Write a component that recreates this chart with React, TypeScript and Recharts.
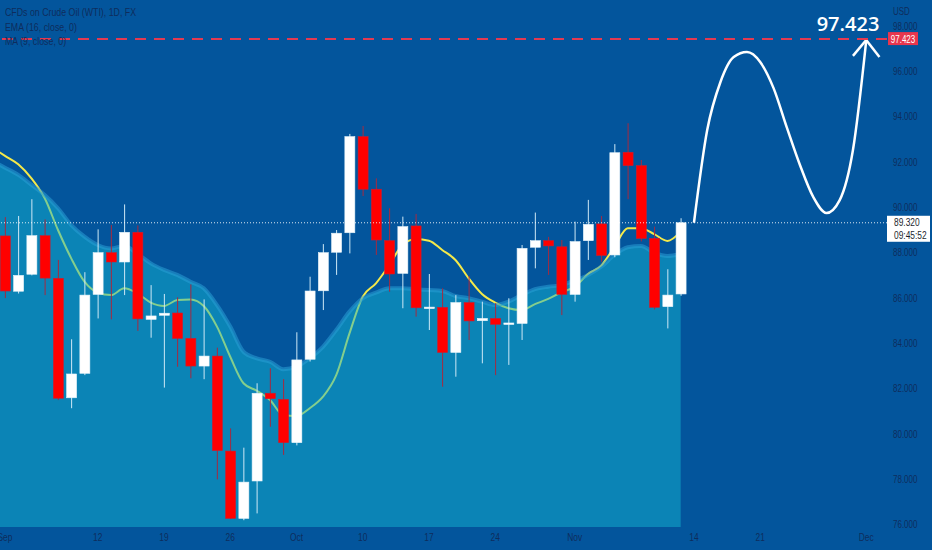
import React from "react";
import {
  ComposedChart,
  XAxis,
  YAxis,
  Line,
  Area,
  Bar,
  ReferenceLine,
  Legend,
} from "recharts";

// daily candles, index 0 = Sep 1, index 51 = Nov 11
const opens = [
  88.74, 86.3, 87.05, 88.75, 86.87, 81.6, 82.68, 86.16, 88.0, 87.59,
  88.9, 85.06, 85.24, 85.34, 84.22, 83.0, 83.44, 79.25, 76.28, 77.93,
  81.8, 81.53, 79.62, 83.3, 86.32, 88.02, 88.88, 93.12, 90.8, 88.53,
  87.09, 89.18, 85.57, 85.59, 83.6, 85.8, 85.0, 85.1, 84.85, 84.88,
  88.24, 88.53, 88.26, 86.16, 88.53, 89.27, 87.9, 92.43, 91.84, 88.63,
  85.62, 86.18,
];
const highs = [
  89.57, 89.62, 90.36, 89.47, 87.68, 84.18, 87.14, 89.03, 89.22, 90.13,
  89.2, 86.57, 86.18, 86.03, 86.6, 85.94, 83.81, 80.25, 79.4, 82.24,
  82.9, 82.42, 84.49, 86.94, 88.38, 89.0, 93.24, 93.59, 91.28, 89.96,
  89.59, 89.71, 87.06, 86.43, 86.13, 86.97, 85.84, 85.77, 85.99, 88.34,
  89.77, 88.7, 88.56, 89.37, 90.33, 89.62, 92.79, 93.71, 92.09, 89.15,
  87.27, 89.52,
];
const lows = [
  86.0, 86.2, 87.0, 86.13, 81.5, 81.14, 82.6, 85.1, 85.06, 86.13,
  84.55, 84.25, 82.05, 82.97, 82.46, 82.42, 78.0, 76.25, 76.2, 76.5,
  80.32, 79.08, 79.5, 83.2, 85.47, 87.02, 87.97, 90.5, 87.9, 86.28,
  85.55, 85.18, 84.59, 82.09, 82.53, 84.15, 83.12, 82.6, 83.05, 84.15,
  87.31, 87.02, 85.25, 85.84, 87.68, 87.6, 87.8, 90.36, 88.5, 85.5,
  84.66, 86.1,
];
const closes = [
  86.31, 87.0, 88.75, 86.88, 81.58, 82.65, 86.13, 88.0, 87.59, 88.9,
  85.08, 85.21, 85.33, 84.22, 83.0, 83.44, 79.27, 76.28, 77.88, 81.8,
  81.56, 79.62, 83.27, 86.31, 88.0, 88.86, 93.12, 90.8, 88.56, 87.06,
  89.15, 85.57, 85.6, 83.6, 85.8, 84.99, 85.1, 84.84, 84.9, 88.19,
  88.53, 88.3, 86.16, 88.49, 89.25, 87.88, 92.41, 91.84, 88.63, 85.59,
  86.13, 89.32,
];

// indicators, index -1 .. 51
const ema16 = [
  92.05, 91.75, 91.43, 90.99, 90.55, 89.96, 89.22, 88.71, 88.34, 88.19,
  88.3, 87.95, 87.53, 87.24, 87.02, 86.72, 86.43, 85.69, 84.74, 83.63,
  83.34, 83.19, 82.86, 82.97, 83.34, 83.85, 84.59, 85.4, 85.99, 86.24,
  86.43, 86.43, 86.39, 86.35, 86.31, 86.09, 85.99, 85.84, 85.69, 85.84,
  86.13, 86.39, 86.5, 86.57, 86.77, 87.02, 87.38, 87.9, 88.24, 88.3,
  88.0, 87.85, 87.94,
];
const ma9 = [
  92.65, 92.27, 91.9, 91.28, 90.4, 89.0, 87.75, 86.72, 86.24, 86.13,
  86.43, 86.2, 85.8, 85.65, 85.91, 85.94, 85.65, 84.74, 83.41, 82.24,
  81.91, 81.5, 80.84, 80.8, 81.14, 81.65, 82.6, 84.44, 86.06, 86.65,
  87.45, 88.34, 88.59, 88.53, 88.12, 87.68, 86.87, 86.18, 85.8, 85.55,
  85.47, 85.73, 85.96, 86.25, 86.5, 87.06, 87.43, 88.26, 89.08, 89.08,
  88.82, 88.52, 88.93,
];

// hand drawn projection, index 52 .. 65
const projection = [
  89.32, 93.41, 95.53, 96.63, 96.85, 96.41, 95.27, 93.54, 91.87, 90.46,
  89.75, 90.32, 92.53, 97.35,
];
const arrowDays = [64, 65, 66];
const arrowValues = [96.68, 97.38, 96.63];

const tickDays = [0, 7, 12, 17, 22, 27, 32, 37, 43, 52, 57, 65];
const tickLabels = ["Sep", "12", "19", "26", "Oct", "10", "17", "24", "Nov", "14", "21", "Dec"];
const priceTicks = [76, 78, 80, 82, 84, 86, 88, 90, 92, 94, 96, 98];

const target = 97.423;
const lastPrice = 89.32;
const lastTime = "09:45:52";
const title = "CFDs on Crude Oil (WTI), 1D, FX";
const emaName = "EMA (16, close, 0)";
const maName = "MA (9, close, 0)";

const BG = "#03559c";
const AXIS_TEXT = "#0e2d5c";
const FONT = "'Liberation Sans', 'Noto Sans', sans-serif";

const rows: any[] = [];
for (let i = -1; i <= 66; i++) {
  const row: any = { i };
  if (i >= 0 && i < opens.length) {
    row.open = opens[i];
    row.high = highs[i];
    row.low = lows[i];
    row.close = closes[i];
    row.range = [lows[i], highs[i]];
  }
  if (i + 1 < ema16.length) {
    row.ema = ema16[i + 1];
    row.ma = ma9[i + 1];
  }
  if (i >= 52 && i - 52 < projection.length) row.proj = projection[i - 52];
  rows.push(row);
}

// condensed text: the reference uses a narrow face
function NText({ x, y, anchor = "start", size = 10, fill = AXIS_TEXT, dy, children }: any) {
  return (
    <text
      transform={`translate(${x},${y}) scale(0.8,1)`}
      textAnchor={anchor}
      dy={dy}
      fontSize={size}
      fill={fill}
      fontFamily={FONT}
    >
      {children}
    </text>
  );
}

function XTick(props: any) {
  const { x, y, payload } = props;
  return (
    <NText x={x} y={y} anchor="middle" size={10.5} dy="0.71em">
      {tickLabels[tickDays.indexOf(payload.value)] ?? ""}
    </NText>
  );
}

function YTick(props: any) {
  const { x, y, payload } = props;
  return (
    <NText x={x} y={y} size={10} dy="0.355em">
      {Number(payload.value).toFixed(3)}
    </NText>
  );
}

function Candle(props: any) {
  const { x, y, width, height, payload } = props;
  if (!payload || payload.open == null || !isFinite(y) || !isFinite(height)) return <g />;
  const { open, close, high, low } = payload;
  const top = Math.min(y, y + height);
  const bottom = Math.max(y, y + height);
  const k = high === low ? 0 : (bottom - top) / (high - low);
  const py = (v: number) => top + (high - v) * k;
  const up = close >= open;
  const bTop = py(Math.max(open, close));
  const bBot = py(Math.min(open, close));
  const cx = x + width / 2;
  return (
    <g>
      <line x1={cx} x2={cx} y1={top} y2={bottom} stroke={up ? "#cfe9f6" : "#a52a40"} strokeWidth={1} />
      <rect
        x={x}
        y={bTop}
        width={width}
        height={Math.max(bBot - bTop, 1.5)}
        fill={up ? "#ffffff" : "#ff0000"}
        stroke={up ? "#e6f3fa" : "#cc1c30"}
        strokeWidth={0.6}
      />
    </g>
  );
}

function TargetLabel(props: any) {
  const { x, y, width } = props.viewBox;
  const r = x + width;
  return (
    <g>
      <text x={r - 39} y={y - 8} textAnchor="middle" fill="#ffffff" fontSize={20} fontWeight={600} fontFamily="'Open Sans', sans-serif">
        {target.toFixed(3)}
      </text>
      <rect x={r + 1} y={y - 7} width={30} height={13} fill="#e8364e" />
      <NText x={r + 16} y={y + 3.5} anchor="middle" size={10} fill="#ffffff">
        {target.toFixed(3)}
      </NText>
    </g>
  );
}

function PriceLabel(props: any) {
  const { x, y, width } = props.viewBox;
  const r = x + width;
  return (
    <g>
      <rect x={r} y={y - 7} width={43} height={26} fill="#ffffff" />
      <NText x={r + 7} y={y + 3} size={10.5} fill="#1b1f2e">
        {lastPrice.toFixed(3)}
      </NText>
      <NText x={r + 7} y={y + 16} size={10.5} fill="#1b1f2e">
        {lastTime}
      </NText>
    </g>
  );
}

function LegendBox() {
  return (
    <div
      style={{
        color: AXIS_TEXT,
        fontSize: 11,
        fontFamily: FONT,
        lineHeight: "14.5px",
        transform: "scaleX(0.8)",
        transformOrigin: "0 0",
        whiteSpace: "nowrap",
      }}
    >
      <div>{title}</div>
      <div>{emaName}</div>
      <div>{maName}</div>
    </div>
  );
}

export default function App() {
  return (
    <div style={{ position: "absolute", left: 0, top: 0, width: 932, height: 550, background: BG }}>
      <ComposedChart width={932} height={550} data={rows} margin={{ top: 0, right: 0, bottom: 0, left: 0 }}>
        <XAxis
          dataKey="i"
          type="number"
          domain={[-0.377, 66.57]}
          allowDataOverflow
          ticks={tickDays}
          interval={0}
          axisLine={false}
          tickLine={false}
          tickSize={0}
          tickMargin={7}
          height={23}
          tick={<XTick />}
        />
        <YAxis
          orientation="right"
          type="number"
          domain={[75.9, 99.147]}
          allowDataOverflow
          ticks={priceTicks}
          interval={0}
          axisLine={false}
          tickLine={false}
          tickSize={6}
          tickMargin={0}
          width={45}
          tick={<YTick />}
          label={(p: any) => (
            <NText x={p.viewBox.x + 6} y={15} size={10}>
              USD
            </NText>
          )}
        />
        <Legend
          layout="vertical"
          align="center"
          verticalAlign="middle"
          wrapperStyle={{ top: 5, left: 5, width: 200 }}
          content={() => <LegendBox />}
        />
        <Line
          dataKey="ma"
          type="monotone"
          stroke="#f4e94a"
          strokeWidth={2}
          dot={false}
          activeDot={false}
          isAnimationActive={false}
          zIndex={100}
        />
        <Area
          dataKey="ema"
          type="monotone"
          fill="#13b3cf"
          fillOpacity={0.5}
          stroke="#2a9fd6"
          strokeWidth={4}
          strokeOpacity={0.55}
          dot={false}
          activeDot={false}
          isAnimationActive={false}
          zIndex={200}
        />
        <Bar
          dataKey="range"
          barSize={10}
          shape={<Candle />}
          isAnimationActive={false}
          zIndex={300}
        />
        <Line
          dataKey="proj"
          type="monotone"
          stroke="#ffffff"
          strokeWidth={2.5}
          dot={false}
          activeDot={false}
          isAnimationActive={false}
          zIndex={400}
        />
        <ReferenceLine
          segment={[{ x: arrowDays[0], y: arrowValues[0] }, { x: arrowDays[1], y: arrowValues[1] }]}
          stroke="#ffffff"
          strokeWidth={2.5}
        />
        <ReferenceLine
          segment={[{ x: arrowDays[1], y: arrowValues[1] }, { x: arrowDays[2], y: arrowValues[2] }]}
          stroke="#ffffff"
          strokeWidth={2.5}
        />
        <ReferenceLine
          y={lastPrice}
          stroke="#ffffff"
          strokeOpacity={0.85}
          strokeDasharray="1 2"
          label={<PriceLabel />}
        />
        <ReferenceLine
          y={target}
          stroke="#e33a52"
          strokeWidth={2}
          strokeDasharray="11 8"
          label={<TargetLabel />}
        />
      </ComposedChart>
    </div>
  );
}
